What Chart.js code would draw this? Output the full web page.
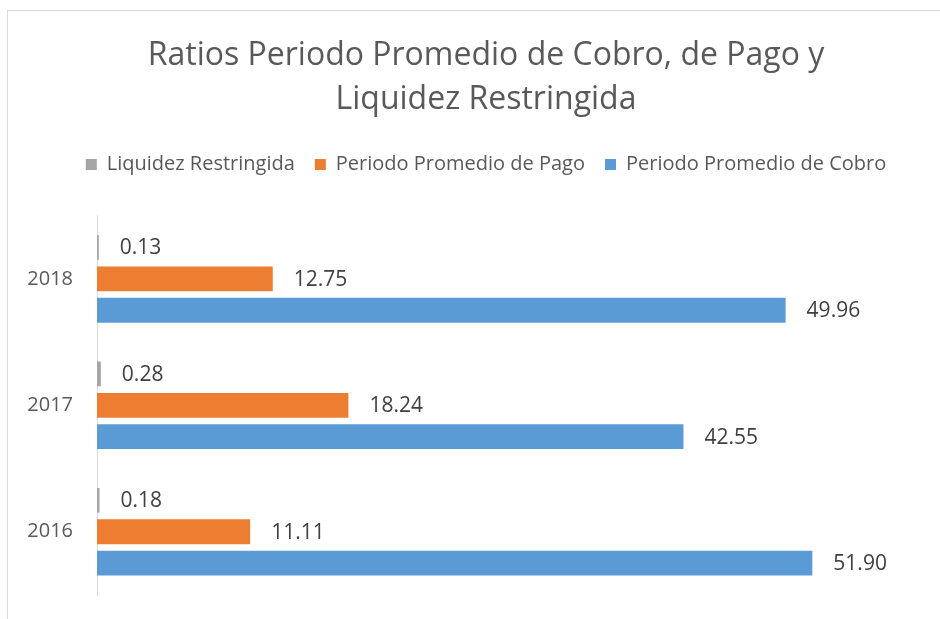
<!DOCTYPE html>
<html>
<head>
<meta charset="utf-8">
<script src="https://cdn.jsdelivr.net/npm/chart.js@4"></script>
<style>
  body { margin: 0; background: #fff; overflow: hidden; }
  #box {
    position: absolute; left: 7px; top: 10px;
    width: 960px; height: 640px;
    border: 1px solid #d9d9d9; background: #fff;
  }
  #wrap { position: absolute; left: 0; top: 0; width: 956px; height: 620px; }
</style>
</head>
<body>
<div id="box"><div id="wrap"><canvas id="ratios-chart"></canvas></div></div>
<script>
const years = ['2018', '2017', '2016'];
const liquidez = [0.13, 0.28, 0.18];
const pago = [12.75, 18.24, 11.11];
const cobro = [49.96, 42.55, 51.90];
const axisMax = 60;

const ratiosChart = document.getElementById('ratios-chart');

// etiquetas de valor a la derecha de cada barra
const valueLabels = {
    id: 'valueLabels',
    afterDatasetsDraw(chart) {
        const ctx = chart.ctx;
        ctx.save();
        ctx.font = '21px "Open Sans"';
        ctx.fillStyle = '#404040';
        ctx.textAlign = 'left';
        ctx.textBaseline = 'middle';
        chart.data.datasets.forEach((ds, i) => {
            chart.getDatasetMeta(i).data.forEach((bar, j) => {
                ctx.fillText(ds.data[j].toFixed(2), bar.x + 21, bar.y + 1);
            });
        });
        ctx.restore();
    }
};

const ratiosBarChart = new Chart(ratiosChart, {
    type: 'bar',
    data: {
        labels: years,
        datasets: [{
            label: 'Liquidez Restringida',
            data: liquidez,
            backgroundColor: '#a5a5a5'
        }, {
            label: 'Periodo Promedio de Pago',
            data: pago,
            backgroundColor: '#ed7d31'
        }, {
            label: 'Periodo Promedio de Cobro',
            data: cobro,
            backgroundColor: '#5b9bd5'
        }]
    },
    options: {
        indexAxis: 'y',
        responsive: true,
        maintainAspectRatio: false,
        animation: false,
        barPercentage: 0.79,
        categoryPercentage: 0.745,
        layout: {
            padding: { left: 0, right: 0, top: 0, bottom: 0 }
        },
        scales: {
            x: {
                // eje oculto arriba, solo para dejar hueco bajo la leyenda
                position: 'top',
                min: 0,
                max: axisMax,
                grid: { display: false },
                border: { display: false },
                ticks: { display: false },
                afterFit(scale) {
                    scale.height = 31;
                }
            },
            y: {
                grid: { display: false, drawTicks: false },
                border: { display: true, color: '#d9d9d9', width: 1 },
                ticks: {
                    padding: 24,
                    color: '#595959',
                    font: { family: 'Open Sans', size: 20 }
                },
                afterFit(scale) {
                    scale.width = 89;
                }
            },
            y2: {
                // margen derecho vacio del area de trazado
                type: 'category',
                position: 'right',
                grid: { display: false, drawTicks: false },
                border: { display: false },
                ticks: { display: false },
                afterFit(scale) {
                    scale.width = 40;
                }
            }
        },
        plugins: {
            title: {
                display: true,
                text: ['Ratios Periodo Promedio de Cobro, de Pago y', 'Liquidez Restringida'],
                color: '#595959',
                font: { family: 'Open Sans', size: 32, weight: 'normal', lineHeight: 1.4 },
                padding: { top: 22, bottom: 12 }
            },
            legend: {
                position: 'top',
                labels: {
                    boxWidth: 11,
                    boxHeight: 11,
                    padding: 20,
                    color: '#595959',
                    font: { family: 'Open Sans', size: 20 }
                }
            },
            tooltip: { enabled: false }
        }
    },
    plugins: [valueLabels]
});
</script>
</body>
</html>
